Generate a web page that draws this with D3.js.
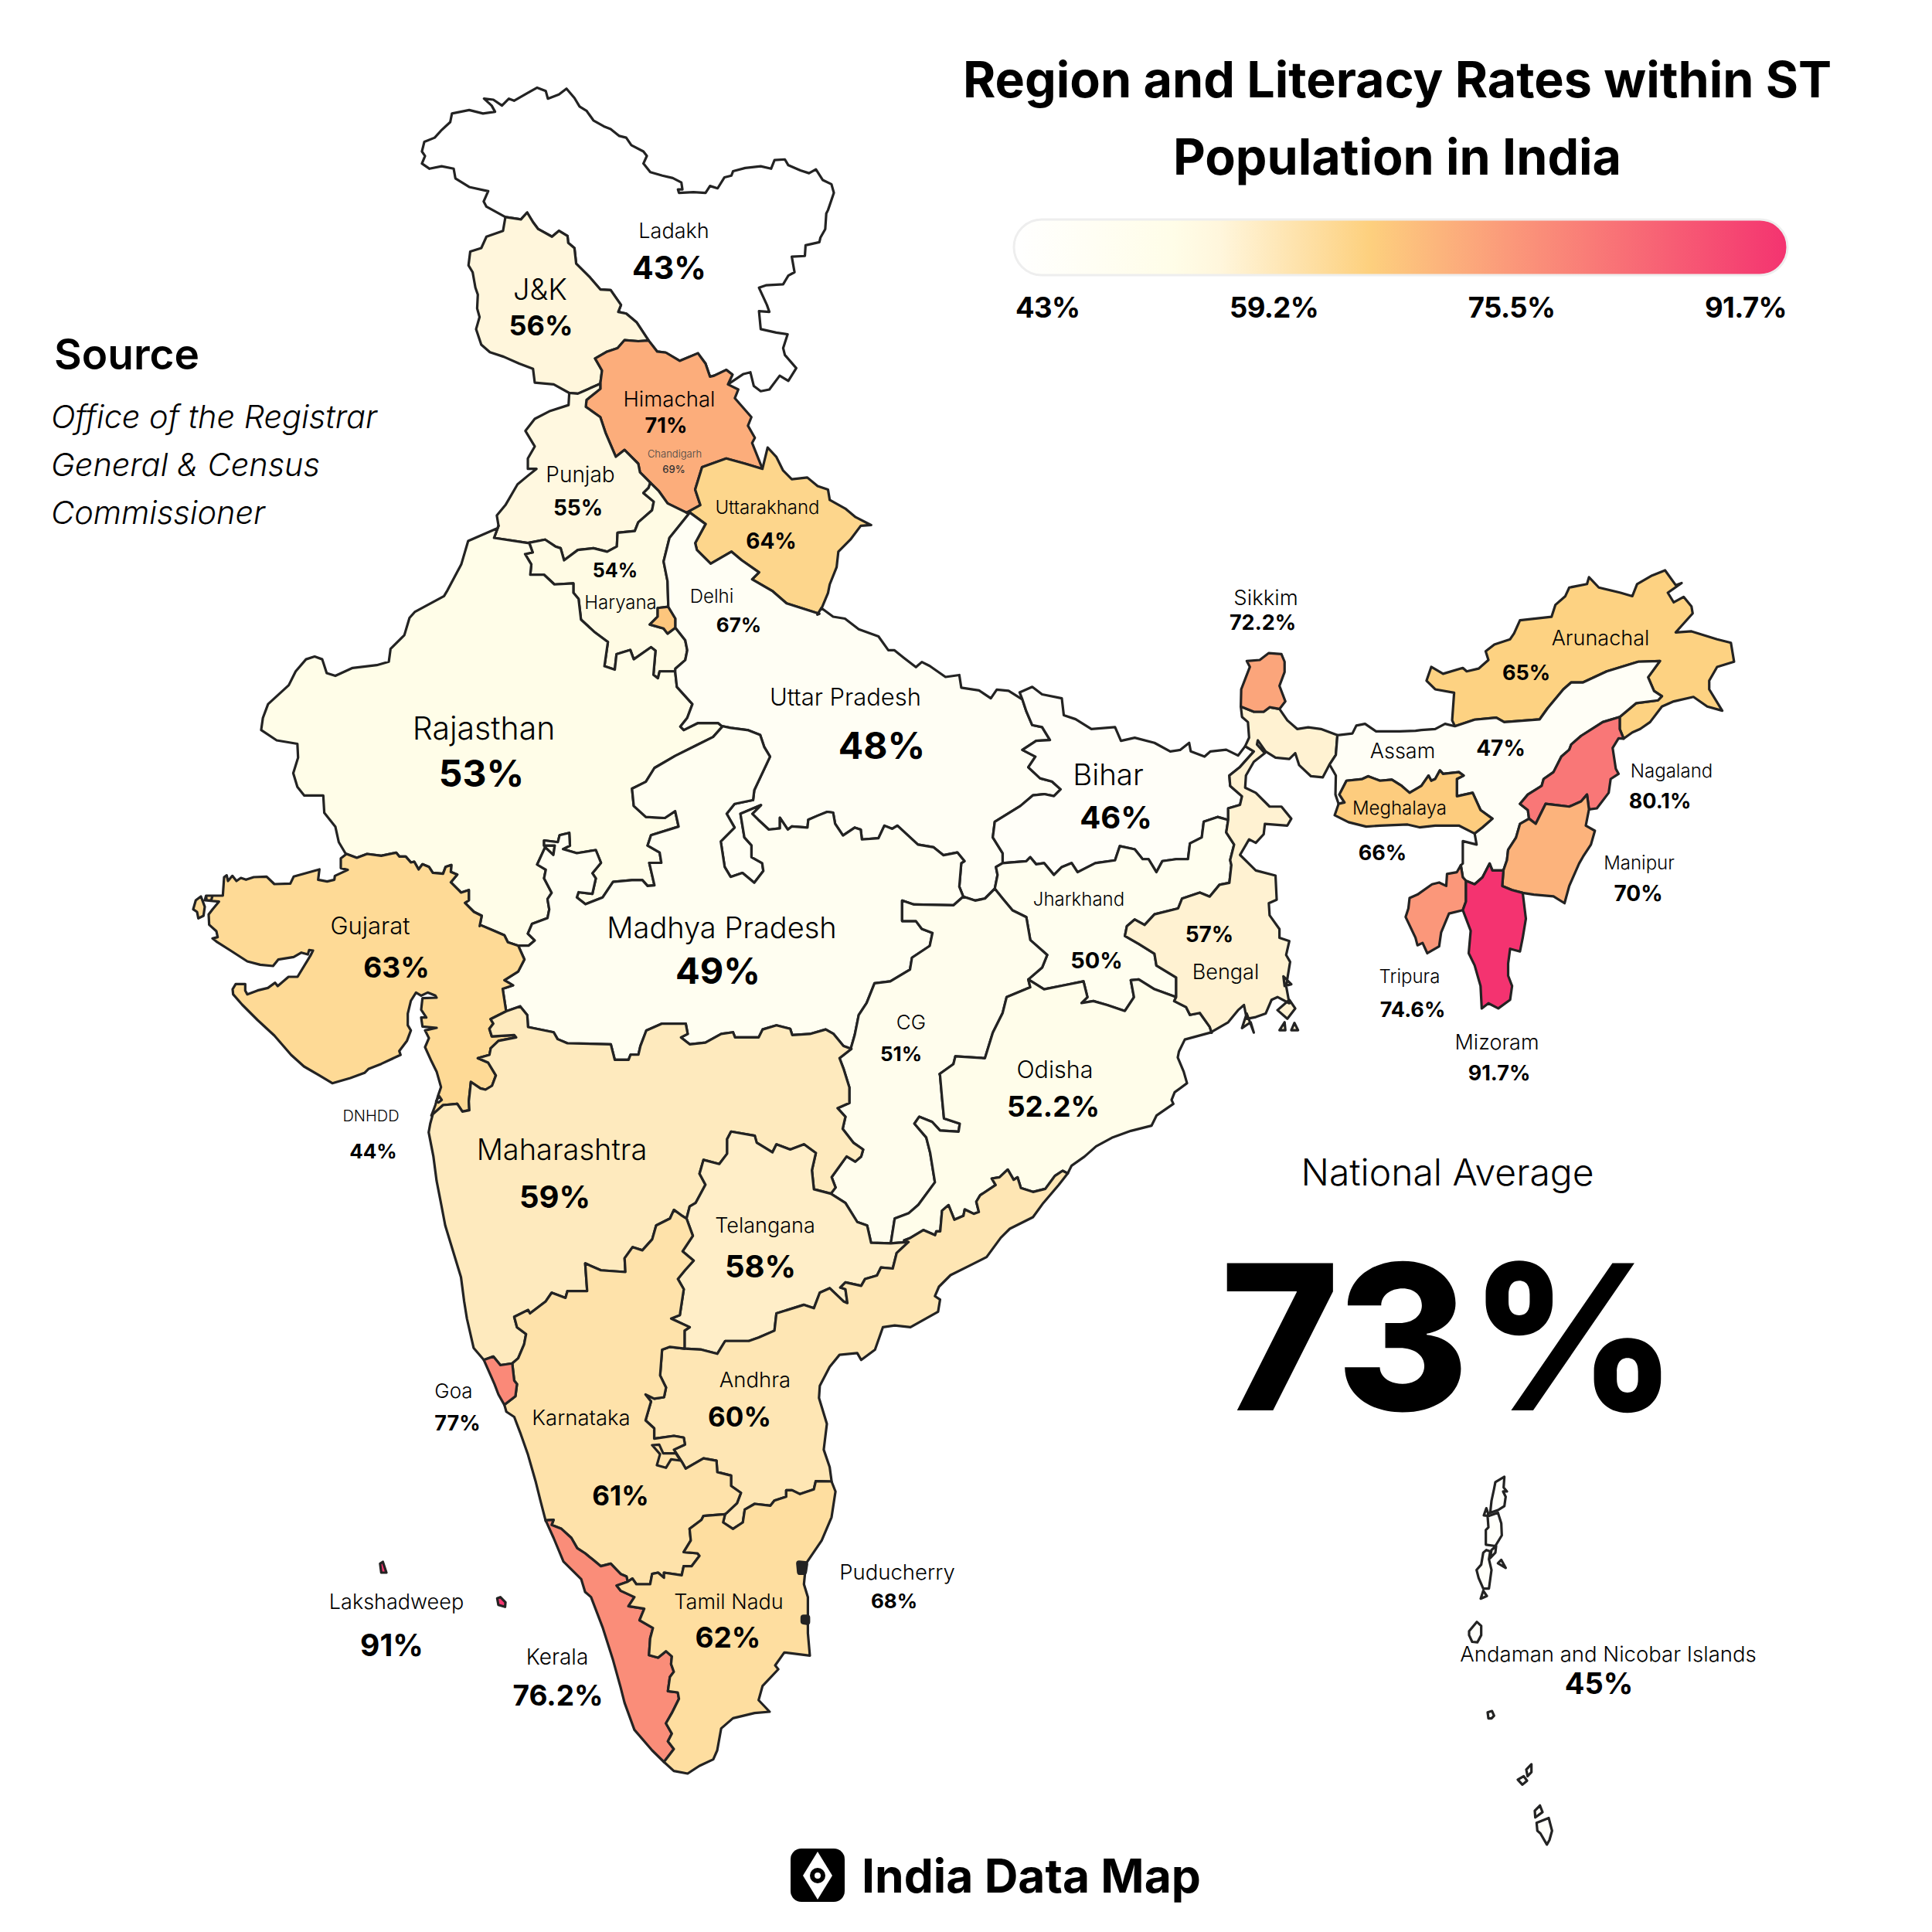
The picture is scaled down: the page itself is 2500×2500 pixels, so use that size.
<!DOCTYPE html>
<html>
<head>
<meta charset="utf-8">
<script src="https://cdn.jsdelivr.net/npm/d3@7"></script>
<style>
  html, body { margin: 0; background: #fff; }
  text { font-family: Inter, "Noto Sans", sans-serif; fill: #000; }
</style>
</head>
<body>
<div id="chart"></div>
<script>
// values
var regions = ['Ladakh', 'J&K', 'Himachal', 'Chandigarh', 'Punjab', 'Uttarakhand', 'Haryana', 'Delhi', 'Rajasthan',
  'Uttar Pradesh', 'Bihar', 'Jharkhand', 'Madhya Pradesh', 'CG', 'Odisha', 'Bengal', 'Sikkim', 'Arunachal', 'Assam',
  'Meghalaya', 'Nagaland', 'Manipur', 'Tripura', 'Mizoram', 'Gujarat', 'DNHDD', 'Maharashtra', 'Telangana', 'Andhra',
  'Karnataka', 'Goa', 'Kerala', 'Tamil Nadu', 'Puducherry', 'Lakshadweep', 'Andaman and Nicobar Islands']
var rates = [43, 56, 71, 69, 55, 64, 54, 67, 53,
  48, 46, 50, 49, 51, 52.2, 57, 72.2, 65, 47,
  66, 80.1, 70, 74.6, 91.7, 63, 44, 59, 58, 60,
  61, 77, 76.2, 62, 68, 91, 45]
var legendLabels = ['43%', '59.2%', '75.5%', '91.7%']
var colorStops = [43, 53, 56, 65.4, 74, 91.7]
var colorRange = ['#ffffff', '#fffde8', '#fff6dc', '#fdd07e', '#fb9a7a', '#f43370']

var crops = {
  n: [500, 100, 2.24, 2.24], w: [300, 650, 2.24, 2.24], c: [800, 650, 1.96, 1.96],
  e: [1500, 700, 1.96, 2.24], s: [520, 1300, 1.96, 2.24], t: [400, 1850, 1.96, 3],
  a: [1800, 1880, 3, 2.904], g: [230, 1090, 3, 3], d: [1120, 1280, 3, 3]
}

// shared borders, each typed once
var arcs = {
  lad_out: ['n', 345,405, 290,375, 282,360, 295,330, 240,318, 200,293, 195,265, 160,258, 125,265, 103,250, 112,228, 103,215, 110,187, 140,175, 158,155, 185,130, 190,105, 240,95, 280,105, 315,100, 305,82, 283,62, 310,65, 335,82, 355,62, 370,68, 410,45, 437,30, 462,40, 468,62, 500,50, 522,33, 545,60, 560,85, 580,97, 600,125, 630,142, 650,150, 675,170, 695,175, 710,197, 745,215, 755,228, 745,250, 765,275, 800,285, 830,292, 855,305, 858,325, 845,325, 848,335, 890,333, 925,335, 938,315, 960,322, 980,290, 1000,285, 1005,272, 1040,263, 1085,258, 1115,265, 1125,240, 1155,238, 1165,255, 1200,270, 1225,278, 1245,267, 1265,298, 1290,310, 1297,335, 1280,385, 1275,395, 1272,440, 1258,465, 1255,478, 1215,487, 1213,518, 1175,520, 1183,565, 1165,575, 1150,600, 1100,603, 1080,610, 1103,660, 1110,680, 1080,678, 1085,730, 1130,740, 1163,745, 1150,785, 1155,805, 1188,843, 1165,880, 1140,865, 1110,905, 1085,910, 1065,895, 1055,855, 1035,860, 990,890],
  lad_hp: ['n', 990,890, 1003,862, 985,848, 950,865, 938,868, 925,830, 903,800, 850,822, 810,798, 785,795, 760,763],
  lad_jk: ['n', 760,763, 725,710, 695,685, 672,680, 680,660, 650,617, 620,615, 590,580, 550,540, 545,495, 527,480, 525,460, 500,445, 480,462, 440,440, 425,420, 408,392, 390,412, 345,405],
  jk_w: ['n', 345,405, 338,445, 290,462, 275,495, 243,505, 238,545, 250,565, 258,610, 265,630, 263,670, 270,695, 260,730, 275,775, 300,797, 340,810, 385,830, 425,845, 430,885, 485,890, 530,915],
  jk_pb: ['n', 530,915, 555,917, 620,888],
  jk_hp: ['n', 620,888, 625,850, 605,815, 640,795, 670,785, 690,762, 730,765, 760,763],
  pb_w: ['n', 530,915, 528,950, 475,967, 430,990, 403,1025, 430,1070, 410,1105, 410,1135, 435,1135, 410,1155, 380,1180, 345,1240, 320,1270, 325,1300],
  pb_rj: ['n', 325,1300, 312,1335, 410,1350],
  pb_hr: ['n', 410,1350, 460,1340, 490,1360, 505,1365, 515,1400, 555,1370, 600,1365, 640,1375, 668,1360, 670,1320, 720,1315, 730,1290, 770,1255, 775,1230, 745,1205, 760,1190, 765,1175],
  pb_hp: ['n', 620,888, 620,903, 580,935, 578,955, 620,985, 635,1030, 665,1100, 690,1080, 730,1120, 735,1145, 765,1175],
  hp_hr: ['n', 765,1175, 790,1200, 815,1235, 870,1262],
  hp_uk: ['n', 870,1262, 910,1240, 895,1195, 915,1130, 985,1105, 1040,1120, 1090,1135],
  hp_e: ['n', 1090,1135, 1060,1060, 1068,1045, 1048,1010, 1058,985, 1010,930, 1020,905, 990,890],
  uk_out: ['n', 1090,1135, 1105,1073, 1130,1100, 1150,1140, 1175,1165, 1220,1160, 1250,1185, 1280,1195, 1285,1225, 1330,1250, 1360,1275, 1405,1298, 1375,1300, 1345,1340, 1310,1375, 1305,1420, 1285,1470, 1280,1495, 1255,1555],
  uk_up: ['n', 1255,1555, 1160,1525, 1120,1490, 1060,1455, 1080,1435, 1030,1400, 1000,1375, 940,1410, 900,1370, 895,1350, 925,1295, 880,1262, 870,1262],
  up_n: ['c', 505,285, 515,268, 545,290, 575,295, 610,322, 660,340, 685,375, 700,375, 725,395, 755,418, 770,405, 790,415, 830,443, 865,438, 870,470, 915,477, 945,497, 960,475, 990,478, 1025,500],
  up_hr1: ['c', 180,28, 130,90, 115,150, 125,200, 127,265],
  up_dl: ['c', 127,265, 145,295, 145,318],
  up_hr2: ['c', 145,318, 170,350, 175,375, 170,400, 145,422],
  dl_hr: ['c', 145,318, 125,333, 115,320, 80,310, 100,290, 100,268, 127,265],
  up_bh: ['c', 1025,500, 1035,530, 1050,565, 1075,570, 1095,603, 1060,605, 1025,628, 1058,645, 1040,672, 1070,700, 1100,708, 1122,728, 1105,745, 1080,740, 1052,743, 1020,770, 955,810, 950,850, 975,890, 975,915],
  up_jh: ['c', 975,915, 958,925, 962,945, 955,980],
  up_cg: ['c', 955,980, 930,1005, 905,1010, 875,1000],
  up_mp: ['c', 875,1000, 865,975, 870,915, 878,910, 860,888, 825,895, 800,875, 760,868, 708,820, 695,828, 675,820, 660,852, 618,855, 615,830, 600,825, 570,845, 550,815, 545,787, 530,785, 505,795, 482,805, 480,825, 440,822, 430,830, 410,800, 410,827, 382,830, 355,805, 340,790, 362,768, 310,790, 320,850, 338,870, 338,900, 365,915, 368,935, 345,965, 315,940, 285,950, 270,925, 260,860, 295,825, 275,790, 295,765, 342,755, 345,730, 385,645, 370,620, 360,590, 330,578, 285,572, 265,568],
  rj_w: ['w', 770,75, 685,112, 665,180, 625,255, 615,272, 530,318, 515,335, 500,385, 460,425, 455,462, 420,472, 350,480, 300,503, 275,495, 262,455, 240,447, 215,455, 185,490, 165,530, 105,585, 90,625, 85,660, 130,690, 190,700, 192,740, 178,785, 190,825, 210,850, 265,850, 268,900, 300,940, 310,985, 332,1022],
  rj_hr: ['w', 862,118, 872,145, 850,150, 868,180, 865,210, 905,210, 935,238, 990,235, 990,262, 1005,280, 1012,340, 1050,375, 1090,405, 1080,475, 1110,485, 1115,440, 1155,428, 1165,455, 1215,420, 1228,430, 1222,500, 1235,510, 1240,490, 1285,490],
  rj_up: ['w', 1285,490, 1290,535, 1335,585, 1320,625, 1300,650, 1310,660, 1350,640, 1410,640, 1422,650],
  rj_mp: ['w', 830,1285, 860,1285, 878,1270, 858,1250, 870,1222, 915,1205, 920,1180, 915,1150, 927,1132, 905,1090, 910,1065, 885,1050, 908,1000, 932,1022, 936,995, 905,995, 905,980, 945,985, 950,965, 978,958, 980,995, 960,1005, 1000,1017, 1055,1008, 1070,1045, 1045,1075, 1055,1090, 1045,1135, 1005,1130, 1000,1145, 1025,1165, 1075,1145, 1105,1100, 1160,1095, 1190,1095, 1205,1112, 1225,1110, 1210,1045, 1245,1045, 1240,1015, 1205,995, 1215,965, 1295,940, 1285,895, 1255,915, 1200,912, 1165,880, 1160,830, 1200,810, 1225,770, 1285,735, 1345,705, 1395,680, 1422,650],
  rj_gj1: ['g', 655,45, 695,60, 735,45, 790,52, 848,40, 860,55, 885,55, 905,78, 918,75, 935,105, 950,85, 975,95, 990,118, 1030,122, 1040,95, 1062,88, 1060,115, 1085,125, 1060,155, 1090,185, 1100,195, 1130,185, 1130,225, 1115,235, 1150,270, 1180,285, 1172,325],
  rj_gj2: ['w', 720,1225, 755,1240, 790,1255, 800,1275, 830,1285],
  gj_mp: ['w', 830,1285, 848,1325, 830,1360, 790,1385, 815,1400, 785,1410, 795,1475],
  mp_mh: ['s', 265,19, 300,5, 318,30, 320,65, 385,80, 395,100, 420,112, 530,115, 540,160, 575,160, 580,145, 600,145, 605,120, 620,75, 660,55, 720,55, 725,85, 708,95, 730,115, 770,110, 810,85, 840,80, 845,95, 905,95, 915,72, 950,60, 985,70, 990,88, 1035,85, 1075,72, 1095,85, 1120,120, 1140,128],
  mp_cg: ['c', 590,1385, 600,1350, 610,1300, 630,1270, 650,1220, 690,1215, 740,1185, 745,1155, 790,1125, 797,1092, 770,1082, 755,1062, 720,1062, 720,1010, 750,1020, 850,1022, 875,1000],
  gj_mh1: ['g', 985,1060, 1030,1020, 1085,1015, 1105,1045, 1132,1040, 1130,1005, 1138,930, 1175,955, 1195,960, 1220,945, 1235,905, 1205,855, 1165,838, 1210,825, 1215,800],
  gj_mh2: ['s', 225,127, 245,105, 290,95, 285,88, 228,92, 222,70, 232,55, 225,42, 265,19],
  gj_coast: ['g', 985,1060, 1000,1020, 1010,985, 1022,950, 1005,890, 985,850, 960,795, 975,760, 960,730, 1005,720, 950,715, 945,680, 965,680, 945,650, 950,605, 1005,603, 1000,595, 970,583, 945,595, 925,583, 905,615, 893,665, 893,710, 905,730, 890,770, 860,810, 865,825, 790,860, 740,880, 725,895, 670,915, 600,935, 550,905, 490,870, 440,825, 375,750, 310,690, 250,630, 215,590, 213,570, 225,550, 262,550, 262,575, 270,590, 310,575, 350,565, 378,545, 388,558, 430,522, 465,522, 515,440, 525,420, 510,418, 505,435, 480,428, 450,445, 390,455, 370,480, 320,475, 270,462, 205,420, 150,385, 135,373, 155,368, 150,345, 122,320, 120,280, 135,260, 160,230, 105,225, 110,207, 175,207, 180,135, 190,128, 195,150, 212,130, 228,150, 245,138, 265,145, 295,135, 345,133, 375,162, 437,160, 450,133, 550,105, 545,145, 580,152, 608,145, 610,130, 660,107, 633,100, 633,62, 655,45],
  mh_coast: ['s', 78,320, 72,345, 68,370, 80,440, 88,510, 100,580, 110,640, 130,715, 150,790, 158,860, 165,910, 182,995, 208,1030],
  mh_goa: ['s', 280,1040, 250,1045, 232,1020, 208,1030],
  goa_coast: ['s', 208,1030, 235,1100, 245,1130, 260,1160],
  goa_ka: ['s', 280,1040, 285,1090, 292,1100, 288,1135, 260,1160],
  mh_ka: ['s', 722,620, 708,610, 690,595, 680,620, 645,640, 635,680, 610,712, 585,703, 565,735, 567,775, 505,770, 465,750, 470,830, 420,830, 415,850, 380,835, 365,860, 325,895, 320,885, 285,905, 292,935, 315,955, 310,985, 295,1025, 280,1040],
  mh_tg: ['s', 1088,548, 1045,535, 1040,480, 1050,430, 1020,405, 985,420, 950,405, 940,428, 900,400, 895,380, 835,368, 825,390, 825,432, 805,462, 765,450, 755,490, 770,522, 745,575, 730,585, 722,620],
  cg_mh: ['s', 1140,128, 1110,155, 1120,185, 1135,240, 1135,285, 1105,300, 1125,325, 1118,360, 1145,400, 1170,420, 1165,440, 1150,455, 1128,440, 1090,500, 1100,530, 1088,548],
  cg_tg: ['s', 1088,548, 1125,575, 1155,630, 1180,640, 1190,690, 1240,692],
  cg_jh: ['c', 955,980, 975,1005, 1000,1035, 1035,1052, 1045,1110, 1088,1148, 1075,1180, 1040,1210],
  cg_od1: ['c', 1040,1210, 1045,1230, 985,1255, 975,1295, 950,1345, 930,1410, 855,1405, 850,1425, 815,1450],
  cg_od2: ['s', 1365,205, 1370,270, 1375,330, 1415,345, 1412,368, 1365,365, 1345,340, 1312,325, 1300,345, 1330,385, 1340,430, 1352,515, 1310,580, 1285,605, 1250,620, 1240,692],
  tg_od: ['s', 1285,688, 1240,692],
  tg_ap: ['s', 717,997, 760,1000, 800,1012, 820,975, 880,975, 905,965, 945,945, 950,895, 1020,870, 1045,880, 1060,835, 1085,822, 1120,860, 1130,865, 1125,825, 1112,820, 1125,805, 1165,815, 1175,795, 1205,785, 1215,762, 1245,765, 1255,720, 1285,688],
  ka_tg: ['s', 722,620, 738,670, 712,715, 740,742, 718,770, 700,795, 715,825, 705,900, 683,910, 730,935, 717,945, 717,997],
  ap_od: ['d', 167,982, 150,975, 175,965, 225,935, 270,955, 275,940, 290,940, 297,860, 322,838, 345,895, 380,880, 385,855, 420,872, 440,865, 430,825, 445,800, 505,760, 490,735, 520,730, 552,700, 575,740, 590,730, 603,772, 650,787, 698,775, 735,725, 765,705, 785,715],
  od_coast1: ['d', 785,715, 800,685, 850,650, 895,610, 960,575, 1030,550, 1110,530, 1130,490, 1195,445, 1188,430, 1200,400, 1248,365, 1235,320, 1212,265],
  od_coast2: ['e', 50,1480, 65,1445, 130,1425],
  ap_coast1: ['d', 785,715, 750,760, 690,830, 650,885, 560,930, 525,965, 470,1040, 400,1075, 330,1110, 285,1155, 270,1190],
  ap_coast2: ['s', 1352,845, 1365,855, 1360,890, 1290,935, 1250,930, 1220,935, 1200,1000, 1165,1030, 1155,1010, 1110,1015, 1085,1050, 1060,1105, 1058,1140, 1078,1215, 1070,1290, 1085,1340, 1090,1382],
  ap_tn: ['t', 1325,201, 1285,200, 1280,232, 1245,250, 1225,235, 1210,235, 1210,260, 1180,275, 1170,295, 1130,288, 1105,310, 1100,360, 1075,385, 1050,360, 1055,328],
  ka_ap: ['s', 717,997, 680,992, 660,1000, 655,1075, 670,1110, 665,1138, 640,1142, 618,1130, 632,1150, 618,1205, 640,1228, 640,1258, 690,1250, 715,1255, 718,1275, 690,1290, 710,1325, 720,1345, 765,1315, 798,1322, 800,1355, 835,1365, 835,1395, 860,1415, 850,1445, 825,1472],
  ka_tn: ['t', 1055,328, 1000,335, 995,350, 965,385, 968,430, 950,475, 985,480, 990,490, 970,530, 950,530, 945,565, 900,555, 900,575, 885,555, 870,560, 865,600, 830,600, 820,578, 808,590],
  ka_kl: ['t', 808,590, 805,570, 790,560, 765,520, 740,530, 720,505, 700,480, 680,460, 665,420, 640,385, 615,370, 620,350, 600,352],
  ka_coast: ['s', 260,1160, 265,1180, 285,1195, 300,1240, 320,1305, 340,1385, 352,1440, 365,1497],
  kl_coast: ['t', 600,352, 620,420, 645,512, 690,580, 700,630, 715,650, 745,770, 770,890, 790,1000, 800,1060, 825,1165, 870,1245, 900,1290],
  kl_tn: ['t', 808,590, 780,605, 790,625, 825,650, 810,685, 850,695, 838,740, 872,770, 865,810, 862,875, 885,885, 905,860, 920,880, 918,910, 925,940, 915,960, 910,1015, 935,1020, 938,1045, 920,1100, 905,1140, 920,1180, 910,1210, 925,1240, 900,1290],
  tn_coast: ['t', 900,1290, 925,1325, 960,1335, 990,1305, 1025,1280, 1035,1245, 1045,1160, 1075,1120, 1130,1100, 1168,1095, 1140,1050, 1150,995, 1190,930, 1182,915, 1205,865, 1270,877, 1265,790, 1265,650, 1255,600, 1260,520, 1300,430, 1325,340, 1335,240, 1325,201],
  jh_od: ['c', 1040,1210, 1080,1235, 1130,1225, 1180,1215, 1190,1255, 1175,1270, 1205,1265, 1240,1275, 1285,1290, 1308,1255, 1300,1212, 1320,1210, 1360,1235, 1415,1255],
  od_bg: ['c', 1415,1255, 1410,1265, 1440,1280, 1450,1300, 1475,1295, 1500,1330, 1505,1345],
  jh_bg1: ['c', 1415,1255, 1415,1205, 1365,1175, 1360,1145, 1320,1120, 1285,1100, 1290,1075, 1310,1058, 1335,1072, 1360,1045, 1420,1030, 1430,1005, 1475,990, 1500,1000, 1525,970, 1550,965, 1555,920],
  jh_bg2: ['e', 180,925, 190,880, 170,845, 175,808],
  bh_jh: ['c', 975,915, 1035,910, 1045,900, 1060,918, 1080,915, 1105,945, 1125,925, 1150,915, 1165,938, 1210,915, 1260,908, 1272,872, 1310,880, 1330,905, 1345,905, 1365,938, 1380,910, 1415,905, 1445,905, 1450,865, 1480,850, 1485,810, 1520,798, 1545,805],
  bh_n1: ['c', 1025,500, 1018,482, 1050,468, 1075,487, 1125,497, 1130,540, 1160,550, 1200,575, 1260,570, 1275,605, 1310,597, 1360,610, 1400,632, 1425,628, 1448,610],
  bh_n2: ['e', 80,610, 115,625, 130,610, 170,605, 200,622, 218,595],
  bh_bg: ['e', 175,808, 175,775, 205,765, 210,740, 180,710, 178,680, 205,655, 240,610, 218,595],
  bg_nw: ['e', 207,480, 210,510, 225,525, 228,570, 220,590, 218,595],
  sk_bg: ['e', 207,480, 240,495, 265,495, 280,482, 305,487],
  sk_out: ['e', 305,487, 320,465, 305,420, 318,380, 318,350, 310,328, 278,325, 255,345, 222,348, 230,365, 208,430, 207,480],
  bg_as1: ['e', 305,487, 325,520, 350,545, 378,540, 410,545, 452,563],
  bg_as2: ['e', 452,563, 448,620, 432,648],
  bg_se: ['e', 432,648, 415,685, 385,682, 355,650, 345,615, 330,632, 295,628, 270,610, 250,578, 248,590, 268,615, 240,640, 220,680, 218,715, 245,730, 280,770, 310,770, 335,805, 325,825, 268,820, 265,850, 245,875, 228,865, 205,910, 245,955, 295,970, 298,1040, 278,1050, 280,1085, 305,1125, 305,1150, 330,1160, 322,1200, 332,1220, 322,1290, 330,1340, 300,1322, 285,1330, 270,1370, 245,1380, 222,1385, 215,1345, 200,1360, 175,1395, 130,1425],
  as_n: ['e', 452,563, 490,558, 500,535, 522,530, 550,552, 610,552, 650,550, 665,548, 700,545, 725,530, 750,537],
  as_ar: ['e', 750,537, 800,518, 855,512, 875,525, 965,517, 985,485, 1025,430, 1045,410, 1075,410, 1135,378, 1215,350, 1270,348, 1240,395, 1255,435, 1275,450, 1265,462, 1210,470, 1168,510],
  ar_out: ['e', 750,537, 743,520, 748,440, 700,430, 678,405, 690,365, 720,385, 770,368, 780,378, 810,370, 835,345, 828,320, 850,300, 890,285, 900,268, 915,230, 995,220, 1005,185, 1030,160, 1040,135, 1085,125, 1090,105, 1115,135, 1170,150, 1200,160, 1212,125, 1250,100, 1283,85, 1310,128, 1325,122, 1290,150, 1305,178, 1330,162, 1350,190, 1353,210, 1310,265, 1350,262, 1415,285, 1450,295, 1458,350, 1415,365, 1395,405, 1395,430, 1428,492, 1390,480, 1355,452, 1305,465, 1275,480, 1245,525, 1220,545, 1200,555, 1178,573],
  ng_ar: ['e', 1168,510, 1168,545, 1178,573],
  as_ng: ['e', 1168,510, 1125,525, 1070,565, 1045,590, 1040,605, 1020,625, 1000,670, 975,690, 970,710, 935,735, 915,762, 935,780, 938,805],
  ng_out: ['e', 1178,573, 1165,572, 1150,600, 1158,660, 1165,675, 1145,690, 1140,730, 1110,775, 1090,778],
  ng_mn: ['e', 938,805, 955,820, 980,762, 1040,770, 1070,755, 1085,735, 1090,778],
  mn_out: ['e', 1090,778, 1082,825, 1105,840, 1095,880, 1075,915, 1065,935, 1040,1000, 1028,1050, 1000,1030, 950,1025, 922,1020],
  mn_mz: ['e', 873,955, 870,1000, 895,1012, 922,1020],
  as_mn: ['e', 938,805, 915,820, 905,860, 885,895, 882,925, 873,955],
  as_mz: ['e', 873,955, 845,955, 838,935, 820,975, 800,995, 778,985],
  mz_out: ['e', 922,1020, 930,1095, 922,1150, 915,1190, 890,1182, 885,1225, 885,1260, 895,1290, 890,1330, 860,1355, 835,1340, 818,1355, 815,1290, 800,1230, 785,1195, 790,1130, 770,1070],
  tr_mz: ['e', 778,985, 778,1045, 770,1070],
  as_tr: ['e', 778,985, 770,975, 765,940],
  tr_out: ['e', 765,940, 755,960, 730,965, 728,1000, 710,990, 692,995, 655,1025, 635,1035, 632,1065, 625,1090, 650,1150, 655,1172, 668,1165, 680,1195, 710,1175, 715,1135, 735,1080, 770,1070],
  as_s: ['e', 800,848, 805,880, 770,870, 770,935, 765,940],
  as_ml: ['e', 455,762, 470,758, 457,735, 475,695, 515,690, 530,682, 560,695, 590,692, 615,710, 635,730, 665,710, 683,680, 690,695, 700,690, 712,665, 720,675, 760,670, 772,680, 755,690, 755,740, 795,730, 815,780, 845,805, 820,830, 800,848],
  ml_s: ['e', 800,848, 760,825, 700,825, 660,830, 630,822, 560,825, 525,828, 480,815, 445,795, 455,762],
  as_w: ['e', 432,648, 448,680, 447,735, 455,762]
}

// a leading minus walks the arc backwards
var rings = {
  'Ladakh': ['lad_out', 'lad_hp', 'lad_jk'],
  'J&K': ['jk_w', 'jk_pb', 'jk_hp', 'lad_jk'],
  'Himachal': ['jk_hp', '-lad_hp', '-hp_e', '-hp_uk', '-hp_hr', '-pb_hp'],
  'Punjab': ['jk_pb', 'pb_hp', '-pb_hr', '-pb_rj', '-pb_w'],
  'Uttarakhand': ['hp_uk', 'uk_out', 'uk_up'],
  'Haryana': ['pb_hr', 'hp_hr', 'up_hr1', '-dl_hr', 'up_hr2', '-rj_hr'],
  'Delhi': ['up_dl', 'dl_hr'],
  'Rajasthan': ['rj_w', 'rj_gj1', 'rj_gj2', 'rj_mp', '-rj_up', '-rj_hr', '-pb_rj'],
  'Uttar Pradesh': ['-uk_up', 'up_n', 'up_bh', 'up_jh', 'up_cg', 'up_mp', '-rj_up', '-up_hr2', '-up_dl', '-up_hr1'],
  'Bihar': ['-up_bh', 'bh_n1', 'bh_n2', '-bh_bg', '-bh_jh'],
  'Jharkhand': ['up_jh', 'cg_jh', 'jh_od', 'jh_bg1', 'jh_bg2', '-bh_jh'],
  'Madhya Pradesh': ['rj_mp', '-up_mp', '-mp_cg', '-mp_mh', '-gj_mp'],
  'CG': ['cg_jh', 'cg_od1', 'cg_od2', '-cg_tg', '-cg_mh', 'mp_cg', '-up_cg'],
  'Odisha': ['-jh_od', 'cg_od1', 'cg_od2', '-tg_od', 'ap_od', 'od_coast1', 'od_coast2', '-od_bg'],
  'Bengal': ['bh_bg', '-bg_nw', 'sk_bg', 'bg_as1', 'bg_as2', 'bg_se', '-od_bg', 'jh_bg1', 'jh_bg2'],
  'Sikkim': ['sk_bg', 'sk_out'],
  'Arunachal': ['ar_out', '-ng_ar', '-as_ar'],
  'Assam': ['as_n', 'as_ar', 'as_ng', 'as_mn', 'as_mz', 'as_tr', '-as_s', '-as_ml', '-as_w', '-bg_as2'],
  'Meghalaya': ['as_ml', 'ml_s'],
  'Nagaland': ['ng_ar', 'ng_out', '-ng_mn', '-as_ng'],
  'Manipur': ['ng_mn', 'mn_out', '-mn_mz', '-as_mn'],
  'Tripura': ['as_tr', 'tr_out', '-tr_mz'],
  'Mizoram': ['mn_mz', 'mz_out', '-tr_mz', '-as_mz'],
  'Gujarat': ['rj_gj1', 'rj_gj2', 'gj_mp', '-gj_mh2', '-gj_mh1', 'gj_coast'],
  'Maharashtra': ['gj_mh1', 'gj_mh2', 'mp_mh', 'cg_mh', 'mh_tg', 'mh_ka', 'mh_goa', '-mh_coast'],
  'Telangana': ['-mh_tg', 'cg_tg', '-tg_od', '-tg_ap', '-ka_tg'],
  'Andhra': ['tg_ap', 'ap_od', 'ap_coast1', 'ap_coast2', 'ap_tn', '-ka_ap'],
  'Karnataka': ['ka_tg', 'ka_ap', 'ka_tn', 'ka_kl', '-ka_coast', '-goa_ka', '-mh_ka'],
  'Goa': ['mh_goa', 'goa_coast', '-goa_ka'],
  'Kerala': ['-ka_kl', 'kl_tn', '-kl_coast'],
  'Tamil Nadu': ['-ap_tn', '-tn_coast', '-kl_tn', '-ka_tn']
}

// small pieces that touch nothing
var islands = {
  'Chandigarh': [['n', 745,1195, 760,1190, 760,1210, 740,1205]],
  'Gujarat': [['g', 60,260, 70,225, 90,210, 105,250, 100,285, 80,295, 75,270], ['g', 110,207, 135,207, 130,225, 112,225]],
  'DNHDD': [['g', 1030,1025, 1085,1015, 1062,1030, 1080,1050, 1078,1072, 1045,1062], ['g', 1003,1005, 1015,985, 1025,1000, 1012,1010]],
  'Karnataka': [['t', 870,60, 888,58, 898,92, 930,92, 942,120, 918,115, 905,148, 882,138, 890,95]],
  'Puducherry': [['t', 1243,520, 1258,522, 1255,552, 1245,552], ['t', 1254,730, 1263,730, 1263,746, 1254,744]],
  'Lakshadweep': [['t', 180,520, 187,513, 196,555, 183,555], ['t', 477,655, 485,650, 498,670, 497,688, 480,680]],
  'Bengal': [['e', 210,1412, 222,1370, 240,1425, 232,1395], ['e', 315,1262, 335,1285, 318,1290], ['e', 300,1360, 330,1330, 345,1355, 325,1385], ['e', 305,1418, 318,1395, 320,1418], ['e', 335,1418, 343,1397, 352,1418]],
  'Andaman and Nicobar Islands': [
    ['a', 405,110, 440,90, 437,130, 450,145, 435,145, 445,165, 440,200, 415,215, 385,225, 390,180, 400,135],
    ['a', 385,235, 415,225, 428,265, 430,310, 405,350, 368,345, 368,290, 378,280, 375,240],
    ['a', 370,365, 385,370, 380,400, 390,440, 380,510, 358,510, 340,470, 332,440, 350,420, 358,375],
    ['a', 385,395, 390,365, 408,350, 405,375],
    ['a', 360,235, 370,208, 380,237],
    ['a', 415,415, 428,402, 445,432],
    ['a', 348,548, 358,518, 372,538],
    ['a', 303,670, 333,635, 350,650, 350,685, 335,712, 315,710, 303,685],
    ['a', 375,975, 392,970, 400,988, 390,998, 378,998],
    ['a', 492,1228, 515,1215, 528,1232, 510,1247],
    ['a', 525,1190, 545,1170, 545,1200, 530,1215],
    ['a', 558,1345, 578,1325, 588,1350, 560,1370],
    ['a', 565,1390, 612,1372, 625,1420, 615,1455, 605,1472, 580,1430, 568,1420]
  ]
}

// label placement: name x, name baseline, name size, value x, value baseline, value size
var labelLayout = {
  'Ladakh': [872, 308, 27, 866, 361, 41], 'J&K': [699, 388, 38, 700, 434, 36], 'Himachal': [866, 526, 27.5, 862, 560, 27],
  'Chandigarh': [873, 592, 13, 872, 612, 13], 'Punjab': [751, 624, 28, 748, 667, 28], 'Uttarakhand': [993, 665, 24, 998, 710, 28],
  'Haryana': [803, 788, 24, 796, 747, 25], 'Delhi': [921, 780, 24, 956, 818, 26], 'Rajasthan': [626, 957, 41, 623, 1018, 48],
  'Uttar Pradesh': [1094, 913, 31, 1141, 982, 48], 'Bihar': [1434, 1016, 38.5, 1444, 1072, 40], 'Jharkhand': [1396, 1172, 24, 1419, 1253, 29],
  'Madhya Pradesh': [934, 1214, 38, 929, 1273, 47], 'CG': [1179, 1332, 26, 1166, 1373, 26], 'Odisha': [1365, 1395, 30.5, 1363, 1445, 37],
  'Bengal': [1586, 1267, 27, 1565, 1219, 28], 'Sikkim': [1638, 783, 27.5, 1634, 815, 27], 'Arunachal': [2071, 835, 27, 1975, 880, 27],
  'Assam': [1815, 981, 27, 1942, 978, 28], 'Meghalaya': [1811, 1054, 24, 1789, 1113, 27], 'Nagaland': [2163, 1006, 24, 2148, 1046, 27],
  'Manipur': [2121, 1125, 24, 2120, 1166, 28], 'Tripura': [1824, 1272, 24, 1828, 1316, 27], 'Mizoram': [1937, 1358, 27, 1940, 1398, 27],
  'Gujarat': [479, 1209, 31, 513, 1265, 37], 'DNHDD': [480, 1451, 20, 483, 1499, 26], 'Maharashtra': [727, 1501, 38, 718, 1563, 40],
  'Telangana': [990, 1595, 27, 984, 1653, 40], 'Andhra': [977, 1795, 27.5, 957, 1846, 35], 'Karnataka': [752, 1844, 27.5, 803, 1948, 35],
  'Goa': [587, 1809, 26, 592, 1851, 27], 'Kerala': [721, 2154, 28, 722, 2207, 37], 'Tamil Nadu': [943, 2082, 27, 942, 2132, 37],
  'Puducherry': [1161, 2044, 27.5, 1157, 2081, 26], 'Lakshadweep': [513, 2082, 27, 507, 2143, 39],
  'Andaman and Nicobar Islands': [2081, 2150, 27.5, 2069, 2192, 38]
}

var width = 2500
var height = 2500

var color = d3.scaleLinear().domain(colorStops).range(colorRange).interpolate(d3.interpolateRgb)
var rate = d3.scaleOrdinal().domain(regions).range(rates)

function toPixels (traced) {
  var c = crops[traced[0]]
  var pts = []
  for (var i = 1; i < traced.length; i += 2) {
    pts.push([c[0] + traced[i] / c[2], c[1] + traced[i + 1] / c[3]])
  }
  return pts
}

function walk (names) {
  var ring = []
  names.forEach(function (name) {
    var back = name[0] === '-'
    var pts = toPixels(arcs[back ? name.slice(1) : name])
    ring = ring.concat(back ? pts.reverse() : pts)
  })
  ring.push(ring[0])
  return ring
}

function closed (traced) {
  var pts = toPixels(traced)
  pts.push(pts[0])
  return pts
}

var features = regions.map(function (name) {
  var polys = []
  if (rings[name]) polys.push([walk(rings[name])])
  ;(islands[name] || []).forEach(function (t) { polys.push([closed(t)]) })
  return { type: 'Feature', properties: { name: name }, geometry: { type: 'MultiPolygon', coordinates: polys } }
})

var svg = d3.select('#chart').append('svg')
  .attr('width', width)
  .attr('height', height)
  .attr('viewBox', [0, 0, width, height])
  .style('display', 'block')

var path = d3.geoPath(d3.geoIdentity())

svg.append('g').selectAll('path')
  .data(features)
  .enter().append('path')
  .attr('d', path)
  .attr('fill', function (d) { return color(rate(d.properties.name)) })
  .attr('stroke', '#232323')
  .attr('stroke-width', function (d) { return d.properties.name === 'Puducherry' ? 8 : 3.2 })
  .attr('stroke-linejoin', 'round')

// region labels
var labels = svg.append('g').selectAll('g')
  .data(regions)
  .enter().append('g')

labels.append('text')
  .attr('text-anchor', 'middle')
  .attr('x', function (d) { return labelLayout[d][0] })
  .attr('y', function (d) { return labelLayout[d][1] })
  .attr('font-size', function (d) { return labelLayout[d][2] })
  .attr('font-weight', 300)
  .style('fill', function (d) { return d === 'Chandigarh' ? '#444' : '#000' })
  .text(function (d) { return d })

labels.append('text')
  .attr('text-anchor', 'middle')
  .attr('x', function (d) { return labelLayout[d][3] })
  .attr('y', function (d) { return labelLayout[d][4] })
  .attr('font-size', function (d) { return labelLayout[d][5] })
  .attr('font-weight', function (d) { return d === 'Chandigarh' ? 500 : 700 })
  .style('fill', function (d) { return d === 'Chandigarh' ? '#333' : '#000' })
  .text(function (d) { return rate(d) + '%' })

// title
var title = svg.append('g').attr('text-anchor', 'middle').attr('font-weight', 700).attr('font-size', 64.6)
title.append('text').attr('x', 1808).attr('y', 126).text('Region and Literacy Rates within ST')
title.append('text').attr('x', 1808).attr('y', 226).text('Population in India')

// legend
var legendX = d3.scaleLinear().domain([43, 91.7]).range([0, 100])
var gradient = svg.append('defs').append('linearGradient').attr('id', 'ramp')
gradient.selectAll('stop')
  .data(colorStops)
  .enter().append('stop')
  .attr('offset', function (d) { return legendX(d) + '%' })
  .attr('stop-color', function (d) { return color(d) })

svg.append('rect')
  .attr('x', 1312)
  .attr('y', 284)
  .attr('width', 1001)
  .attr('height', 72)
  .attr('rx', 36)
  .attr('fill', 'url(#ramp)')
  .attr('stroke', '#eeeeee')
  .attr('stroke-width', 3)

var ticks = svg.append('g').selectAll('text')
  .data(legendLabels)
  .enter().append('text')
  .attr('y', 411)
  .attr('font-size', 36.5)
  .attr('font-weight', 700)
  .attr('letter-spacing', -0.6)
  .text(function (d) { return d })

// spread the tick labels edge to edge, as flex space-between would
var tickWidths = ticks.nodes().map(function (n) { return n.getComputedTextLength() })
var gap = (2312 - 1314 - d3.sum(tickWidths)) / (legendLabels.length - 1)
ticks.attr('x', function (d, i) { return 1314 + d3.sum(tickWidths.slice(0, i)) + gap * i })

// source note
svg.append('text').attr('x', 70).attr('y', 478).attr('font-size', 55).attr('font-weight', 600).text('Source')
var source = svg.append('g').attr('font-size', 41.5).attr('font-style', 'italic').attr('font-weight', 300)
source.append('text').attr('x', 66).attr('y', 554).text('Office of the Registrar')
source.append('text').attr('x', 66).attr('y', 616).text('General & Census')
source.append('text').attr('x', 66).attr('y', 678).text('Commissioner')

// national average
svg.append('text').attr('x', 1873).attr('y', 1534).attr('text-anchor', 'middle').attr('font-size', 48).attr('font-weight', 300).text('National Average')
svg.append('text').attr('x', 1875).attr('y', 1825).attr('text-anchor', 'middle').attr('font-size', 262).attr('font-weight', 800).text('73%')

// logo and brand
var logo = svg.append('g')
logo.append('rect').attr('x', 1023).attr('y', 2392).attr('width', 70).attr('height', 69).attr('rx', 14).attr('fill', '#000')
logo.append('path')
  .attr('d', d3.line()([[1058, 2396], [1077, 2427], [1058, 2458], [1039, 2427]]) + 'Z')
  .attr('fill', '#fff')
logo.append('circle').attr('cx', 1058).attr('cy', 2427).attr('r', 7).attr('fill', '#fff').attr('stroke', '#000').attr('stroke-width', 6)
svg.append('text').attr('x', 1115).attr('y', 2449).attr('font-size', 60.5).attr('font-weight', 700).text('India Data Map')
</script>
</body>
</html>
